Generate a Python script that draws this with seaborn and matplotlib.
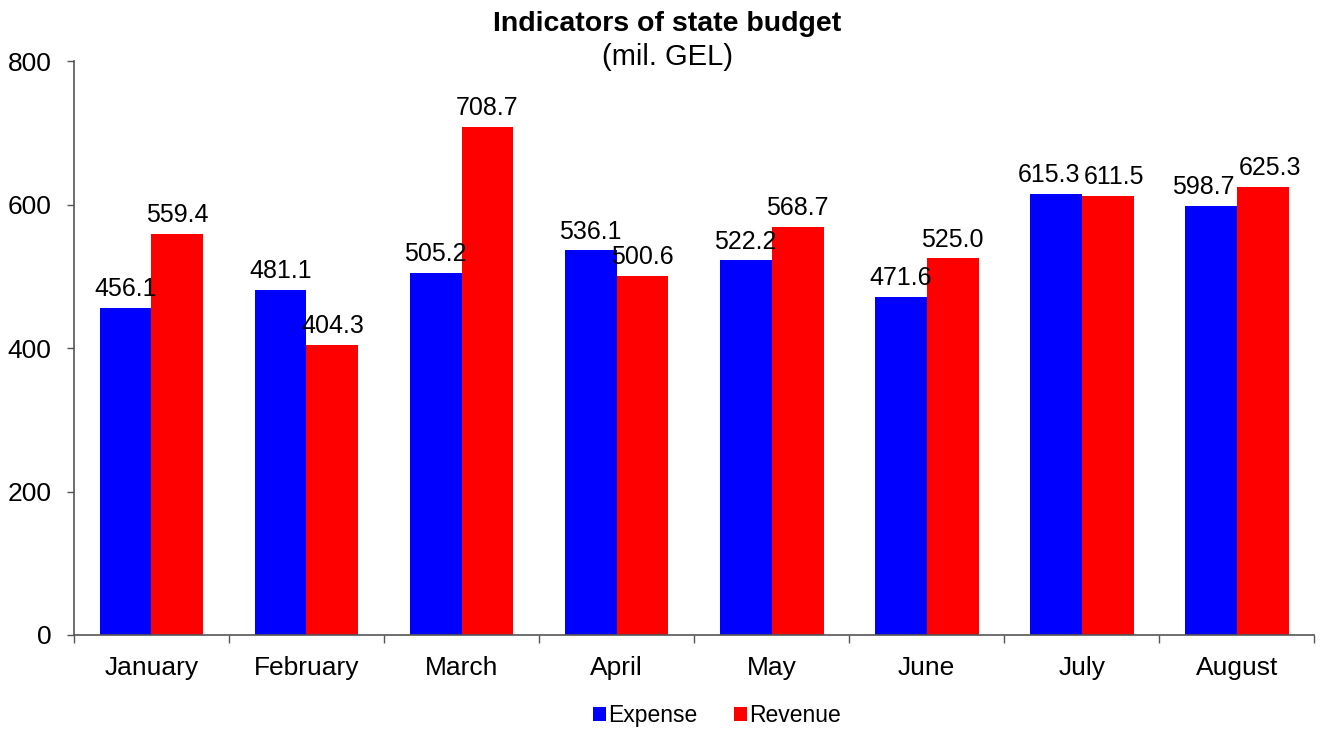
import pandas as pd
import matplotlib
matplotlib.use("Agg")
import matplotlib.pyplot as plt
import seaborn as sns

# data
months = ["January", "February", "March", "April", "May", "June", "July", "August"]
expense = [456.1, 481.1, 505.2, 536.1, 522.2, 471.6, 615.3, 598.7]
revenue = [559.4, 404.3, 708.7, 500.6, 568.7, 525.0, 611.5, 625.3]
series = ["Expense", "Revenue"]
colors = ["#0000FF", "#FF0000"]

df = pd.DataFrame({
    "Month": months * 2,
    "Value": expense + revenue,
    "Series": [series[0]] * len(months) + [series[1]] * len(months),
})

sns.set_style("white")
plt.rcParams["font.family"] = ["Liberation Sans", "DejaVu Sans"]
plt.rcParams["text.color"] = "black"
plt.rcParams["xtick.color"] = "black"
plt.rcParams["ytick.color"] = "black"

fig = plt.figure(figsize=(13.35, 7.29), dpi=100)
ax = fig.add_axes([0.0554, 0.129, 0.929, 0.787])

sns.barplot(data=df, x="Month", y="Value", hue="Series", palette=colors,
            width=0.67, saturation=1, ax=ax, errorbar=None, linewidth=0)

label_sets = []
for c in ax.containers:
    label_sets.append(ax.bar_label(c, fmt="%.1f", fontsize=18, padding=5, color="black"))

ax.set_ylim(0, 800)
ax.set_yticks([0, 200, 400, 600, 800])
ax.set_xlim(-0.5, len(months) - 0.5)
ax.set_xlabel("")
ax.set_ylabel("")
ax.tick_params(axis="x", labelsize=19, length=0, pad=15)
ax.tick_params(axis="y", labelsize=19, direction="out", length=5, width=1,
               color="#555555", left=True, pad=11)
# boundary ticks between categories
ax.set_xticks([i + 0.5 for i in range(-1, len(months))], minor=True)
ax.tick_params(axis="x", which="minor", direction="out", length=6, width=1,
               color="#555555", bottom=True)

for s in ["top", "right"]:
    ax.spines[s].set_visible(False)
for s in ["left", "bottom"]:
    ax.spines[s].set_color("#555555")
    ax.spines[s].set_linewidth(1.2)

fig.text(0.5, 0.967, "Indicators of state budget", ha="center", va="center",
         fontsize=20.5, fontweight="bold")
fig.text(0.5, 0.922, "(mil. GEL)", ha="center", va="center", fontsize=21)

handles, labels = ax.get_legend_handles_labels()
ax.legend_.remove()
fig.legend(handles, labels, loc="center", bbox_to_anchor=(0.537, 0.018),
           ncol=2, frameon=False, fontsize=16.5, handlelength=0.55, handleheight=0.55,
           handletextpad=0.1, columnspacing=1.6)

# push apart value labels of the same month if they collide
fig.canvas.draw()
r = fig.canvas.get_renderer()
for a, b in zip(label_sets[0], label_sets[1]):
    ba, bb = a.get_window_extent(r), b.get_window_extent(r)
    if ba.overlaps(bb) and ba.x1 > bb.x0:
        shift = (ba.x1 - bb.x0 + 4) / 2
        a.set_position((a.get_position()[0] - shift * 0.72, a.get_position()[1]))
        b.set_position((b.get_position()[0] + shift * 0.72, b.get_position()[1]))

fig.savefig("out.png", dpi=100)
